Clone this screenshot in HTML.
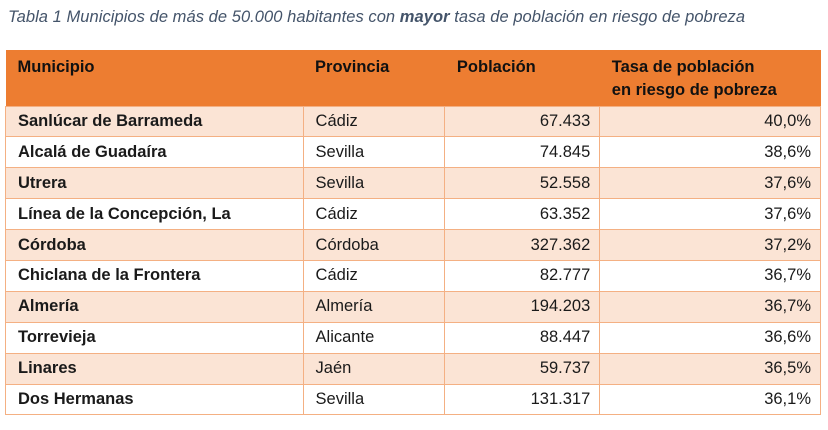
<!DOCTYPE html>
<html><head><meta charset="utf-8"><style>
body{margin:0;width:828px;height:430px;background:#fff;font-family:"Liberation Sans",sans-serif;position:relative;overflow:hidden}
.t{position:absolute;left:8px;top:8px;font-size:16.5px;font-style:italic;color:#44546A;letter-spacing:0.05px;white-space:nowrap}
table{position:absolute;left:5px;top:50px;border-collapse:collapse;width:816px;font-size:16.5px;color:#1a1a1a}
td{border:1px solid #F4B083;height:30.9px;padding:0 10px 0 12px;box-sizing:border-box}
tr.h td{background:#ED7D31;border:none;height:56px;vertical-align:top;padding-top:6px;font-weight:bold;line-height:23px;color:#111}
tr.o td{background:#FBE4D5}
td.n{text-align:right;padding-right:9px}
td:first-child{font-weight:bold}
</style></head><body>
<div class="t">Tabla 1 Municipios de más de 50.000 habitantes con <b>mayor</b> tasa de población en riesgo de pobreza</div>
<table>
<colgroup><col style="width:298px"><col style="width:142px"><col style="width:155px"><col style="width:221px"></colgroup>
<tr class="h"><td>Municipio</td><td>Provincia</td><td>Población</td><td>Tasa de población<br>en riesgo de pobreza</td></tr>
<tr class="o"><td>Sanlúcar de Barrameda</td><td>Cádiz</td><td class="n">67.433</td><td class="n">40,0%</td></tr>
<tr><td>Alcalá de Guadaíra</td><td>Sevilla</td><td class="n">74.845</td><td class="n">38,6%</td></tr>
<tr class="o"><td>Utrera</td><td>Sevilla</td><td class="n">52.558</td><td class="n">37,6%</td></tr>
<tr><td>Línea de la Concepción, La</td><td>Cádiz</td><td class="n">63.352</td><td class="n">37,6%</td></tr>
<tr class="o"><td>Córdoba</td><td>Córdoba</td><td class="n">327.362</td><td class="n">37,2%</td></tr>
<tr><td>Chiclana de la Frontera</td><td>Cádiz</td><td class="n">82.777</td><td class="n">36,7%</td></tr>
<tr class="o"><td>Almería</td><td>Almería</td><td class="n">194.203</td><td class="n">36,7%</td></tr>
<tr><td>Torrevieja</td><td>Alicante</td><td class="n">88.447</td><td class="n">36,6%</td></tr>
<tr class="o"><td>Linares</td><td>Jaén</td><td class="n">59.737</td><td class="n">36,5%</td></tr>
<tr><td>Dos Hermanas</td><td>Sevilla</td><td class="n">131.317</td><td class="n">36,1%</td></tr>
</table>
</body></html>
